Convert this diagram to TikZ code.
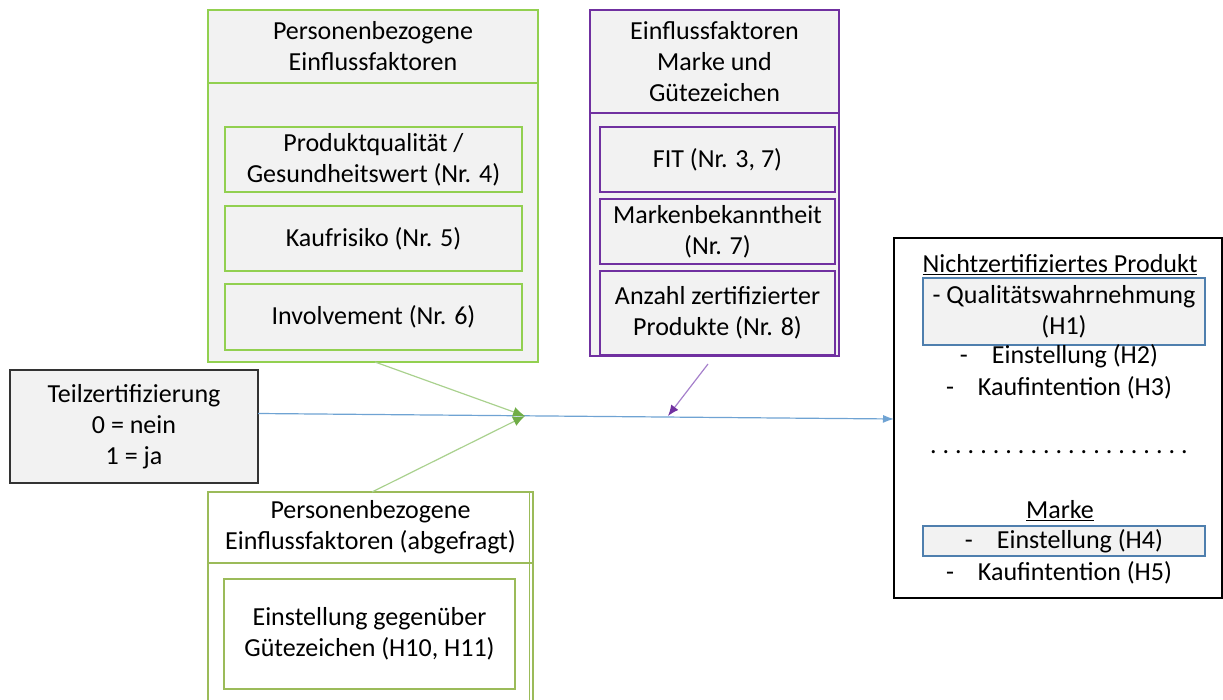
\documentclass[tikz,border=0pt]{standalone}
\usepackage{fontspec}
\setmainfont{Carlito}
\usetikzlibrary{arrows.meta}
\definecolor{gA}{HTML}{92D050}
\definecolor{gB}{HTML}{9BBB59}
\definecolor{pu}{HTML}{7030A0}
\definecolor{gfill}{HTML}{F2F2F2}
\definecolor{bline}{HTML}{6FA3D3}
\definecolor{gline}{HTML}{A9D18E}
\definecolor{gtip}{HTML}{70AD47}
\definecolor{pline}{HTML}{A57FCB}
\definecolor{qb}{HTML}{4F7FAE}
\tikzset{
  txt/.style={font=\fontsize{26}{31}\selectfont, align=center, inner sep=0pt, outer sep=0pt, text=black},
  box/.style={txt, anchor=north west, rectangle},
  gbox/.style={box, draw=gA, fill=gfill, line width=1.8pt},
  pbox/.style={box, draw=pu, fill=gfill, line width=1.8pt},
  bbox/.style={box, draw=gB, fill=white, line width=1.8pt},
  qbox/.style={box, draw=qb, fill=gfill, line width=1.3pt},
}
\newcommand{\bx}[7]{\node[#1, minimum width=#4-#2, minimum height=#5-#3] (#6) at (#2,#3) {#7};}
\newcommand{\dd}{.\kern6.0pt}
\begin{document}
\begin{tikzpicture}[x=1pt,y=-1pt]
\useasboundingbox (0,0) rectangle (1223,700);
% top green group
\bx{gbox}{208}{83}{538}{362}{pgbody}{}
\bx{gbox}{208}{10}{538}{83}{pghead}{Personenbezogene\\Einflussfaktoren}
\bx{gbox}{225}{127}{522}{192}{pq}{Produktqualität /\\Gesundheitswert (Nr. 4)}
\bx{gbox}{225}{206}{522}{271}{kr}{Kaufrisiko (Nr. 5)}
\bx{gbox}{225}{284}{522}{350}{inv}{Involvement (Nr. 6)}
% purple group
\bx{pbox}{590}{113}{839}{356}{pubody}{}
\bx{pbox}{590}{10}{839}{113}{puhead}{Einflussfaktoren\\Marke und\\Gütezeichen}
\bx{pbox}{600}{127}{835}{192}{fit}{FIT (Nr. 3, 7)}
\bx{pbox}{600}{199}{835}{264}{mb}{Markenbekanntheit\\(Nr. 7)}
\bx{pbox}{600}{271}{835}{355}{az}{Anzahl zertifizierter\\Produkte (Nr. 8)}
% left box
\bx{box, draw=black!80, fill=gfill, line width=1.5pt}{10}{370}{258}{483}{teil}{Teilzertifizierung\\0 = nein\\1 = ja}
% bottom green group
\bx{bbox}{208}{492}{533}{563}{abhead}{Personenbezogene\\Einflussfaktoren (abgefragt)}
\draw[gB, line width=1.8pt] (abhead.south west) -- ++(0,145);
\draw[gB, line width=1.8pt] (abhead.south east) -- ++(0,145);
\draw[gB, line width=1.8pt] ([xshift=-3.5pt]abhead.north east) -- ++(0,215);
\bx{bbox}{224}{579}{515}{689}{ein}{Einstellung gegenüber\\Gütezeichen (H10, H11)}
% right box
\bx{box, draw=black, fill=white, line width=1.5pt}{894}{238}{1222}{598}{res}{}
\node[txt] (nz) at (1060,265) {\underline{Nichtzertifiziertes Produkt}};
\bx{qbox}{923}{278}{1205}{345}{qw}{- Qualitätswahrnehmung\\(H1)}
\node[txt] (h2) at (1059,356) {-\hspace{24pt}Einstellung (H2)};
\node[txt] (h3) at (1059,388) {-\hspace{24pt}Kaufintention (H3)};
\node[txt] (dots) at (1059,452) {\dd\dd\dd\dd\dd\dd\dd\dd\dd\dd\dd\dd\dd\dd\dd\dd\dd\dd\dd\dd.};
\node[txt] (mk) at (1060,511) {\underline{Marke}};
\bx{qbox}{923}{526}{1205}{556}{h4}{-\hspace{24pt}Einstellung (H4)}
\node[txt] (h5) at (1059,573) {-\hspace{24pt}Kaufintention (H5)};
% connectors
\coordinate (J) at (525,416);
\coordinate (P) at (668,416);
\draw[bline, line width=1.2pt, -{Latex[length=11pt,width=8pt]}] ([yshift=13pt]teil.east) -- ([yshift=-1pt]res.west);
\draw[gline, line width=1.2pt, -{Latex[length=12pt,width=10pt,fill=gtip,color=gtip]}] (375,362) -- (J);
\draw[gline, line width=1.2pt, -{Latex[length=12pt,width=10pt,fill=gtip,color=gtip]}] (372,492) -- (J);
\draw[pline, line width=1.2pt, -{Latex[length=11pt,width=9pt,fill=pu,color=pu]}] (708,364) -- (P);
\end{tikzpicture}
\end{document}
